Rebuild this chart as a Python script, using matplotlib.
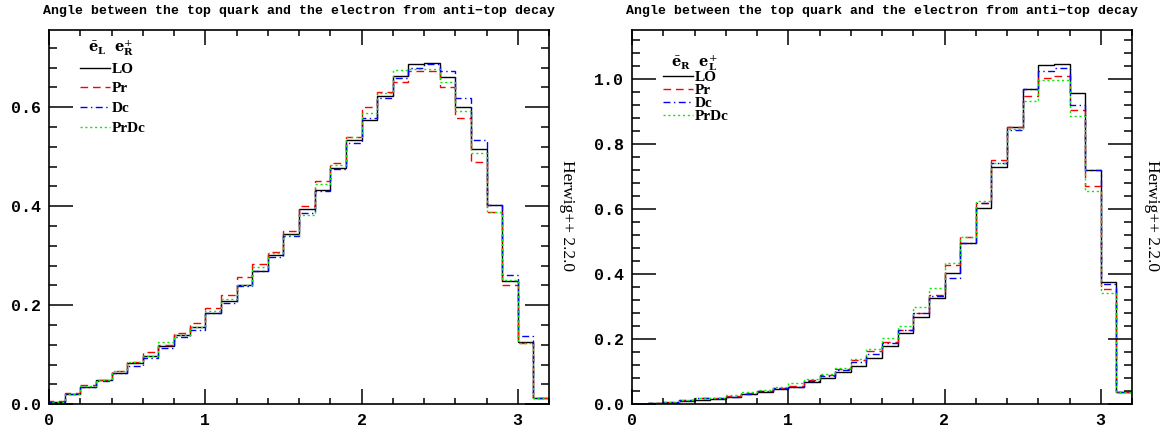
import matplotlib
matplotlib.use("Agg")
import matplotlib.pyplot as plt
import numpy as np
from matplotlib.ticker import MultipleLocator, FormatStrFormatter

# bin edges: angle 0..3.2 in steps of 0.1
edges = np.round(np.arange(0, 3.21, 0.1), 2)

# left panel: e_L^- e_R^+
left_lo = [0.005, 0.021, 0.034, 0.049, 0.064, 0.083, 0.098, 0.118, 0.139, 0.157,
           0.185, 0.209, 0.241, 0.269, 0.302, 0.344, 0.394, 0.433, 0.477, 0.534,
           0.574, 0.623, 0.663, 0.687, 0.689, 0.662, 0.600, 0.516, 0.403, 0.250,
           0.126, 0.012]
left_pr = [0.006, 0.022, 0.039, 0.050, 0.068, 0.086, 0.105, 0.120, 0.145, 0.165,
           0.194, 0.220, 0.257, 0.283, 0.308, 0.351, 0.401, 0.452, 0.487, 0.539,
           0.600, 0.631, 0.650, 0.673, 0.673, 0.640, 0.579, 0.490, 0.389, 0.240,
           0.124, 0.012]
left_dc = [0.005, 0.021, 0.034, 0.048, 0.064, 0.078, 0.093, 0.114, 0.135, 0.151,
           0.185, 0.205, 0.238, 0.269, 0.297, 0.339, 0.387, 0.431, 0.475, 0.527,
           0.578, 0.619, 0.660, 0.679, 0.687, 0.674, 0.618, 0.533, 0.403, 0.262,
           0.137, 0.012]
left_prdc = [0.005, 0.021, 0.036, 0.049, 0.068, 0.085, 0.098, 0.125, 0.140, 0.157,
             0.189, 0.212, 0.240, 0.277, 0.305, 0.342, 0.383, 0.445, 0.483, 0.539,
             0.589, 0.628, 0.675, 0.677, 0.677, 0.651, 0.593, 0.507, 0.389, 0.252,
             0.123, 0.012]

# right panel: e_R^- e_L^+
right_lo = [0.002, 0.004, 0.005, 0.010, 0.013, 0.016, 0.023, 0.032, 0.039, 0.046,
            0.054, 0.067, 0.080, 0.100, 0.118, 0.141, 0.179, 0.218, 0.267, 0.326,
            0.404, 0.497, 0.602, 0.729, 0.851, 0.970, 1.044, 1.047, 0.955, 0.720,
            0.377, 0.037]
right_pr = [0.002, 0.005, 0.007, 0.013, 0.018, 0.018, 0.025, 0.034, 0.042, 0.049,
            0.056, 0.075, 0.090, 0.107, 0.137, 0.164, 0.192, 0.228, 0.281, 0.336,
            0.428, 0.515, 0.620, 0.750, 0.851, 0.948, 1.003, 1.009, 0.904, 0.671,
            0.354, 0.037]
right_dc = [0.002, 0.005, 0.007, 0.014, 0.018, 0.018, 0.023, 0.032, 0.042, 0.049,
            0.054, 0.073, 0.087, 0.105, 0.131, 0.154, 0.188, 0.228, 0.281, 0.334,
            0.387, 0.497, 0.617, 0.740, 0.843, 0.970, 1.024, 1.034, 0.919, 0.720,
            0.370, 0.037]
right_prdc = [0.002, 0.005, 0.007, 0.012, 0.018, 0.020, 0.028, 0.037, 0.044, 0.052,
              0.064, 0.077, 0.092, 0.110, 0.139, 0.169, 0.204, 0.240, 0.298, 0.356,
              0.435, 0.515, 0.626, 0.740, 0.847, 0.931, 0.996, 0.996, 0.886, 0.656,
              0.341, 0.037]

labels = ["LO", "Pr", "Dc", "PrDc"]
title = "Angle between the top quark and the electron from anti\u2212top decay"

styles = [
    dict(color="black", linestyle="-"),
    dict(color="#ff0000", linestyle=(0, (5.5, 3.5))),
    dict(color="#0000ff", linestyle=(0, (5, 2.5, 1, 2.5))),
    dict(color="#00ee00", linestyle=(0, (1.5, 2))),
]

W, H = 1172, 432
fig = plt.figure(figsize=(W / 100, H / 100), dpi=100)
ax_l = fig.add_axes([49 / W, 27.7 / H, 500 / W, 374.3 / H])
ax_r = fig.add_axes([632 / W, 27.7 / H, 500 / W, 374.3 / H])

panels = [
    (ax_l, [left_lo, left_pr, left_dc, left_prdc], 0.756,
     r"$\bar{\mathbf{e}}_{\mathbf{L}}\ \ \mathbf{e}^{+}_{\mathbf{R}}$", 0.72, 0.04),
    (ax_r, [right_lo, right_pr, right_dc, right_prdc], 1.15,
     r"$\bar{\mathbf{e}}_{\mathbf{R}}\ \ \mathbf{e}^{+}_{\mathbf{L}}$", 1.05, 0.04),
]

for ax, series, ymax, header, y0, dy in panels:
    for vals, st in zip(series, styles):
        ax.stairs(vals, edges, linewidth=1.0, **st)
    ax.set_xlim(0, 3.2)
    ax.set_ylim(0, ymax)

    ax.xaxis.set_major_locator(MultipleLocator(1))
    ax.xaxis.set_minor_locator(MultipleLocator(0.2))
    ax.yaxis.set_major_locator(MultipleLocator(0.2))
    ax.yaxis.set_minor_locator(MultipleLocator(0.04))
    ax.yaxis.set_major_formatter(FormatStrFormatter("%.1f"))
    ax.xaxis.set_major_formatter(FormatStrFormatter("%d"))
    ax.tick_params(which="both", direction="in", top=True, right=True, width=1.1)
    ax.tick_params(axis="x", which="major", length=11)
    ax.tick_params(axis="x", which="minor", length=4.5)
    ax.tick_params(axis="y", which="major", length=17)
    ax.tick_params(axis="y", which="minor", length=6)
    ax.tick_params(axis="both", labelsize=12, pad=6)
    for lab in ax.get_xticklabels() + ax.get_yticklabels():
        lab.set_family("Liberation Mono")
        lab.set_fontweight("bold")
    for sp in ax.spines.values():
        sp.set_linewidth(1.2)

    ax.text(0.5, 1 + 19 / 374.3, title, transform=ax.transAxes, ha="center",
            va="center", fontsize=9.5, fontweight="bold", family="Liberation Mono")

    # legend drawn in data coordinates like the original
    ax.text(0.25, y0, header, fontsize=10.5, ha="left", va="center",
            math_fontfamily="dejavuserif")
    for i, (lab, st) in enumerate(zip(labels, styles)):
        y = y0 - dy * (i + 1)
        ax.plot([0.2, 0.39], [y, y], linewidth=1.0, **st)
        ax.text(0.40, y, lab, fontsize=11, fontweight="bold", ha="left",
                va="center_baseline", family="Liberation Serif")

for xc in (567, 1152):
    fig.text(xc / W, 1 - 216 / H, "Herwig++ 2.2.0", rotation=-90, ha="center",
             va="center", fontsize=12.5, family="Liberation Serif")

fig.savefig("out.png", dpi=100)
